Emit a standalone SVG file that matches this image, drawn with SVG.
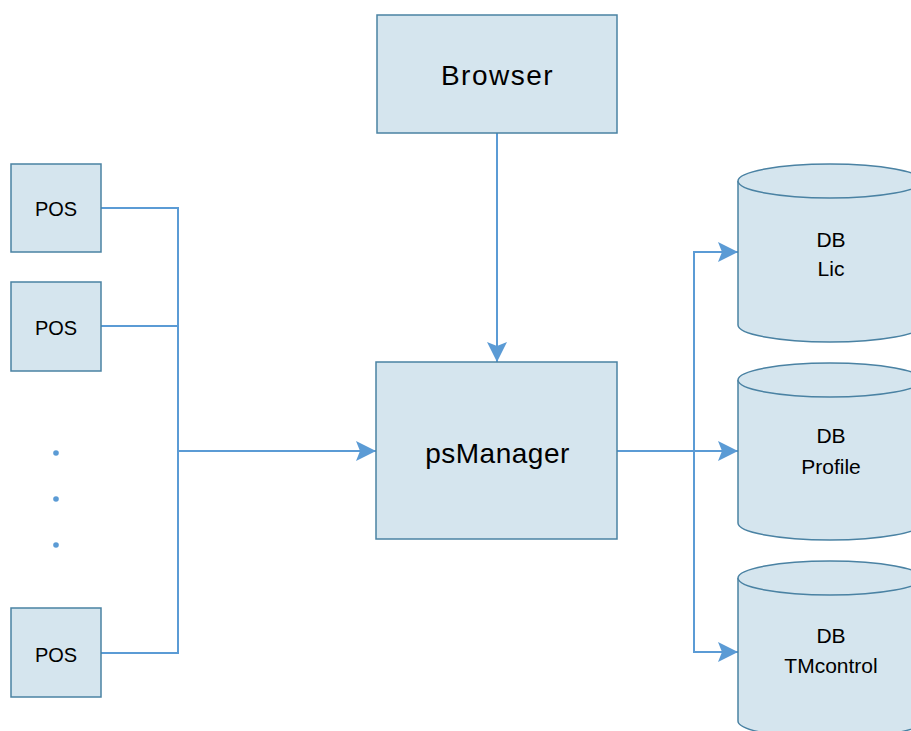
<svg xmlns="http://www.w3.org/2000/svg" width="911" height="731" viewBox="0 0 911 731">
<style>
.box{fill:#d5e5ee;stroke:#4a82a3;stroke-width:1.5}
.t{font-family:"Liberation Sans",Arial,sans-serif;fill:#000;text-anchor:middle}
.c{fill:none;stroke:#5b9bd5;stroke-width:2}
</style>
<defs>
<marker id="ah" markerWidth="20" markerHeight="20" viewBox="0 0 20 20" refX="20" refY="10" markerUnits="userSpaceOnUse" orient="auto">
<path d="M0,0 L20,10 L0,20 L4,10 Z" fill="#5b9bd5"/>
</marker>
</defs>
<rect width="911" height="731" fill="#fff"/>
<g id="connectors">
<path class="c" d="M101,208 H178 V653 H101"/>
<path class="c" d="M101,326 H178"/>
<path class="c" d="M178,451 H376" marker-end="url(#ah)"/>
<path class="c" d="M497,133 V362" marker-end="url(#ah)"/>
<path class="c" d="M617,451 H738" marker-end="url(#ah)"/>
<path class="c" d="M738,252 H694 V652 H738" marker-end="url(#ah)"/>
<path class="c" d="M694,252 H738" marker-end="url(#ah)"/>
<g fill="#5b9bd5"><circle cx="56" cy="453" r="2.8"/><circle cx="56" cy="499" r="2.8"/><circle cx="56" cy="545" r="2.8"/></g>
</g>
<g id="pos1"><rect class="box" x="11" y="164" width="90" height="88"/><text class="t" x="56" y="216" font-size="20">POS</text></g>
<g id="pos2"><rect class="box" x="11" y="282" width="90" height="89"/><text class="t" x="56" y="335" font-size="20">POS</text></g>
<g id="pos3"><rect class="box" x="11" y="608" width="90" height="89"/><text class="t" x="56" y="662" font-size="20">POS</text></g>
<g id="browser"><rect class="box" x="377" y="15" width="240" height="118"/><text class="t" x="497.5" y="85" font-size="28" letter-spacing="1.5">Browser</text></g>
<g id="psmanager"><rect class="box" x="376" y="362" width="241" height="177"/><text class="t" x="497.5" y="463" font-size="28" letter-spacing="0.5">psManager</text></g>
<g id="dblic">
<path class="box" d="M738,181 V325 A92,17 0 0 0 922,325 V181 A92,17 0 0 0 738,181 Z"/>
<path class="box" fill="none" d="M738,181 A92,17 0 0 0 922,181"/>
<text class="t" x="831" y="247" font-size="21">DB</text><text class="t" x="831" y="276" font-size="21">Lic</text>
</g>
<g id="dbprofile">
<path class="box" d="M738,380 V523 A92,17 0 0 0 922,523 V380 A92,17 0 0 0 738,380 Z"/>
<path class="box" fill="none" d="M738,380 A92,17 0 0 0 922,380"/>
<text class="t" x="831" y="443" font-size="21">DB</text><text class="t" x="831" y="474" font-size="21">Profile</text>
</g>
<g id="dbtmcontrol">
<path class="box" d="M738,578 V721 A92,17 0 0 0 922,721 V578 A92,17 0 0 0 738,578 Z"/>
<path class="box" fill="none" d="M738,578 A92,17 0 0 0 922,578"/>
<text class="t" x="831" y="643" font-size="21">DB</text><text class="t" x="831" y="673" font-size="21">TMcontrol</text>
</g>
</svg>
